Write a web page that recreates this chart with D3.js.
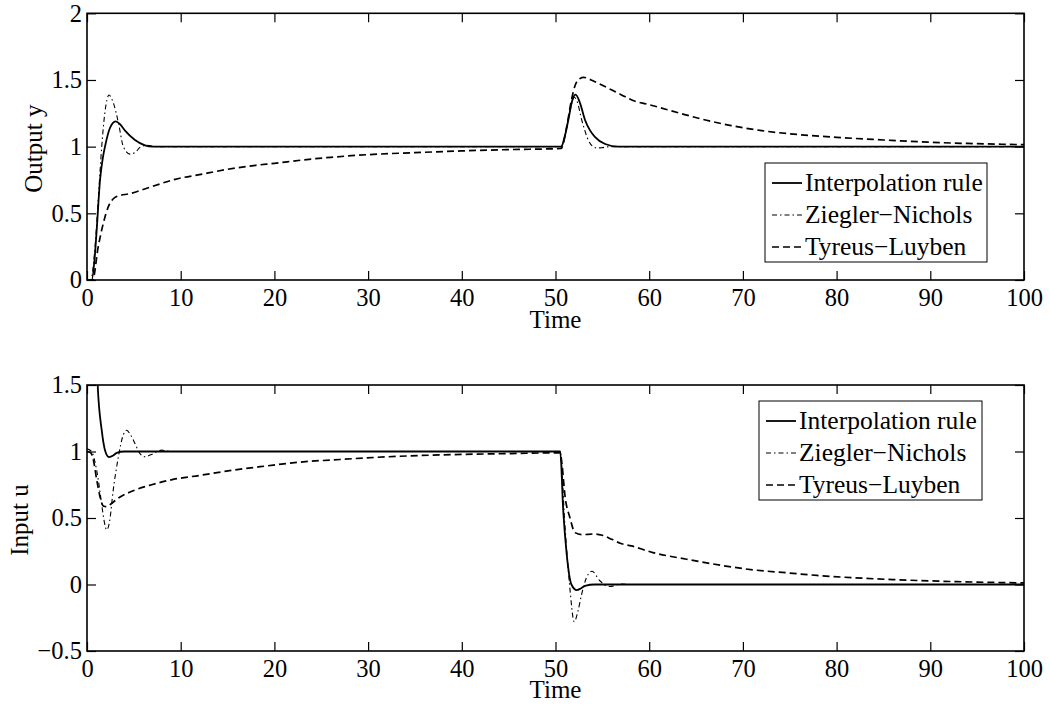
<!DOCTYPE html>
<html>
<head>
<meta charset="utf-8">
<script src="https://cdn.jsdelivr.net/npm/d3@7/dist/d3.min.js"></script>
<style>
  html, body { margin: 0; padding: 0; background: #fff; }
  svg { display: block; }
  text { font-family: "Liberation Serif", "Times New Roman", serif; fill: #000; }
</style>
</head>
<body>
<svg id="chart" width="1050" height="706"></svg>
<script>
// ---------------- DATA ----------------
const seriesNames = ["Interpolation rule", "Ziegler\u2212Nichols", "Tyreus\u2212Luyben"];

const xTicks = [0, 10, 20, 30, 40, 50, 60, 70, 80, 90, 100];
const xTickLabels = ["0", "10", "20", "30", "40", "50", "60", "70", "80", "90", "100"];
const topYTicks = [0, 0.5, 1, 1.5, 2];
const topYTickLabels = ["0", "0.5", "1", "1.5", "2"];
const botYTicks = [-0.5, 0, 0.5, 1, 1.5];
const botYTickLabels = ["\u22120.5", "0", "0.5", "1", "1.5"];

// Output y — Interpolation rule
const tInterpY = [0, 0.5, 0.8, 1.03, 1.39, 1.7, 1.92, 2.45, 3.06, 3.5, 4.06, 5.12, 6.19, 7, 8, 50.6, 51.0, 51.37, 51.8, 52.15, 52.6, 53.15, 53.7, 54.2, 55.3, 56.7, 100];
const interpY  = [0, 0, 0.15, 0.37, 0.75, 0.92, 1.0, 1.14, 1.19, 1.17, 1.12, 1.05, 1.01, 1.0, 1.0, 1.0, 1.08, 1.2, 1.35, 1.39, 1.33, 1.2, 1.12, 1.074, 1.02, 1.0, 1.0];
// Output y — Ziegler–Nichols
const tZnY = [0, 0.4, 0.8, 1.2, 1.57, 1.9, 2.35, 2.8, 3.35, 3.88, 4.59, 5.2, 5.66, 6.4, 7.5, 50.6, 51.0, 51.4, 51.8, 52.0, 52.3, 52.8, 53.5, 54.0, 54.4, 55.0, 55.8, 100];
const znY  = [0, 0, 0.2, 0.6, 1.0, 1.25, 1.387, 1.33, 1.18, 1.0, 0.944, 0.96, 0.995, 1.01, 1.0, 1.0, 1.08, 1.22, 1.34, 1.37, 1.34, 1.2, 1.05, 1.0, 0.99, 0.993, 1.0, 1.0];
// Output y — Tyreus–Luyben
const tTlY = [0, 0.6, 1.2, 1.74, 2.28, 2.99, 3.6, 4.4, 6.9, 9.4, 12, 15, 18, 20, 23, 26, 30, 35, 40, 45, 50.6, 51.2, 51.7, 52.1, 52.6, 53.0, 53.8, 55, 57, 58.5, 59.7, 63.3, 66, 68.6, 72, 76, 80, 85, 90, 95, 100];
const tlY  = [0, 0, 0.25, 0.425, 0.55, 0.62, 0.635, 0.645, 0.70, 0.755, 0.79, 0.83, 0.86, 0.875, 0.9, 0.92, 0.94, 0.955, 0.968, 0.978, 0.986, 1.15, 1.35, 1.46, 1.51, 1.52, 1.5, 1.46, 1.39, 1.34, 1.32, 1.25, 1.2, 1.16, 1.12, 1.09, 1.07, 1.05, 1.033, 1.022, 1.015];

// Input u — Interpolation rule
const tInterpU = [0, 0.5, 1.0, 1.14, 1.57, 1.92, 2.35, 2.8, 3.17, 4, 50.5, 50.83, 51.2, 51.7, 52.26, 52.7, 53.15, 54.2, 100];
const interpU  = [4.0, 3.0, 1.75, 1.5, 1.16, 1.01, 0.958, 0.97, 0.99, 1.0, 1.0, 0.55, 0.225, 0.0, -0.042, -0.03, -0.01, 0.0, 0.0];
// Input u — Ziegler–Nichols
const tZnU = [0, 0.5, 0.75, 1.03, 1.3, 1.57, 1.85, 2.1, 2.4, 2.8, 3.35, 3.8, 4.24, 4.6, 5.12, 5.6, 6.19, 6.8, 7.95, 9, 50.5, 51.0, 51.5, 52.0, 52.4, 52.8, 53.3, 53.9, 54.7, 55.8, 57, 58, 100];
const znU  = [1.02, 1.0, 0.95, 0.86, 0.74, 0.6, 0.47, 0.41, 0.47, 0.71, 0.96, 1.11, 1.16, 1.13, 1.06, 0.99, 0.96, 0.975, 1.01, 1.0, 1.0, 0.45, 0.0, -0.28, -0.2, -0.07, 0.05, 0.1, 0.03, -0.015, 0.003, 0.0, 0.0];
// Input u — Tyreus–Luyben
const tTlU = [0, 0.4, 0.67, 1.03, 1.39, 1.74, 2.1, 2.45, 3.35, 5.12, 6.9, 9.2, 12, 15.6, 19, 22.7, 27, 32, 38, 44, 50.5, 50.7, 51.0, 51.55, 52.08, 52.8, 54.2, 55, 56, 56.9, 58.1, 60.4, 64, 67.6, 71.1, 74.7, 77.9, 82, 86, 90, 95, 100];
const tlU  = [1.0, 0.99, 0.94, 0.79, 0.66, 0.59, 0.585, 0.60, 0.65, 0.71, 0.75, 0.79, 0.82, 0.86, 0.89, 0.92, 0.94, 0.96, 0.975, 0.983, 0.99, 0.9, 0.675, 0.5, 0.39, 0.375, 0.38, 0.37, 0.34, 0.31, 0.29, 0.24, 0.19, 0.145, 0.11, 0.088, 0.068, 0.05, 0.037, 0.027, 0.018, 0.012];

// ---------------- DRAW ----------------
const svg = d3.select("#chart");
const TICKFONT = 24.5;
const LABELFONT = 25;
const LEGFONT = 25.5;
const styles = [
  { width: 1.8, dash: null },
  { width: 1.1, dash: "5,3,1.5,3" },
  { width: 1.7, dash: "7,4" }
];

const x = d3.scaleLinear().domain([0, 100]).range([87, 1024]);

function panel(cfg) {
  const y = d3.scaleLinear().domain(cfg.yDomain).range(cfg.yRange);
  const g = svg.append("g");
  const top = cfg.yRange[1], bot = cfg.yRange[0];
  const clipId = "clip" + cfg.id;
  svg.append("clipPath").attr("id", clipId)
    .append("rect").attr("x", x(0)).attr("y", top)
    .attr("width", x(100) - x(0)).attr("height", bot - top);

  // data lines
  const line = d3.line().x(d => x(d[0])).y(d => y(d[1])).curve(d3.curveMonotoneX);
  cfg.series.forEach((s, i) => {
    const pts = s.t.map((t, k) => [t, s.v[k]]);
    g.append("path")
      .attr("clip-path", `url(#${clipId})`)
      .attr("d", line(pts))
      .attr("fill", "none")
      .attr("stroke", "#000")
      .attr("stroke-width", styles[i].width)
      .attr("stroke-dasharray", styles[i].dash)
      .attr("stroke-linejoin", "round");
  });

  // axes
  const axB = d3.axisBottom(x).tickValues(xTicks)
    .tickFormat((d, i) => xTickLabels[i]).tickSizeInner(-9).tickSizeOuter(0).tickPadding(9);
  const axT = d3.axisTop(x).tickValues(xTicks).tickFormat("").tickSizeInner(-9).tickSizeOuter(0);
  const axL = d3.axisLeft(y).tickValues(cfg.yTicks)
    .tickFormat((d, i) => cfg.yLabels[i]).tickSizeInner(-9).tickSizeOuter(0).tickPadding(5);
  const axR = d3.axisRight(y).tickValues(cfg.yTicks).tickFormat("").tickSizeInner(-9).tickSizeOuter(0);

  const gb = g.append("g").attr("transform", `translate(0,${bot})`).call(axB);
  const gt = g.append("g").attr("transform", `translate(0,${top})`).call(axT);
  const gl = g.append("g").attr("transform", `translate(${x(0)},0)`).call(axL);
  const gr = g.append("g").attr("transform", `translate(${x(100)},0)`).call(axR);
  [gb, gt, gl, gr].forEach(a => {
    a.select(".domain").remove();
    a.selectAll("line").attr("stroke", "#000").attr("stroke-width", 1.2);
    a.selectAll("text").attr("font-family", "Liberation Serif, serif")
      .attr("font-size", TICKFONT).attr("fill", "#000");
  });

  g.append("rect").attr("x", x(0)).attr("y", top)
    .attr("width", x(100) - x(0)).attr("height", bot - top)
    .attr("fill", "none").attr("stroke", "#000").attr("stroke-width", 1.6);

  // axis labels
  g.append("text").attr("x", (x(0) + x(100)) / 2).attr("y", cfg.xLabelY)
    .attr("text-anchor", "middle").attr("font-size", LABELFONT).text("Time");
  g.append("text")
    .attr("transform", `translate(${cfg.yLabelX},${(top + bot) / 2 + 2}) rotate(-90)`)
    .attr("text-anchor", "middle").attr("font-size", LABELFONT).text(cfg.yLabel);

  // legend
  const L = cfg.legend;
  g.append("rect").attr("x", L.x).attr("y", L.y).attr("width", L.w).attr("height", L.h)
    .attr("fill", "#fff").attr("stroke", "#000").attr("stroke-width", 1);
  seriesNames.forEach((name, i) => {
    const cy = L.y + 20 + i * 32;
    g.append("line").attr("x1", L.x + 7).attr("x2", L.x + 37).attr("y1", cy).attr("y2", cy)
      .attr("stroke", "#000").attr("stroke-width", styles[i].width)
      .attr("stroke-dasharray", styles[i].dash);
    g.append("text").attr("x", L.x + 40).attr("y", cy + 8)
      .attr("font-size", LEGFONT).text(name);
  });
}

panel({
  id: "top", yDomain: [0, 2], yRange: [280, 13.3],
  yTicks: topYTicks, yLabels: topYTickLabels,
  yLabel: "Output y", yLabelX: 42, xLabelY: 328,
  legend: { x: 765, y: 163, w: 222, h: 99 },
  series: [ { t: tInterpY, v: interpY }, { t: tZnY, v: znY }, { t: tTlY, v: tlY } ]
});

panel({
  id: "bot", yDomain: [-0.5, 1.5], yRange: [651, 385],
  yTicks: botYTicks, yLabels: botYTickLabels,
  yLabel: "Input u", yLabelX: 28, xLabelY: 698,
  legend: { x: 759, y: 401, w: 223, h: 99 },
  series: [ { t: tInterpU, v: interpU }, { t: tZnU, v: znU }, { t: tTlU, v: tlU } ]
});
</script>
</body>
</html>
